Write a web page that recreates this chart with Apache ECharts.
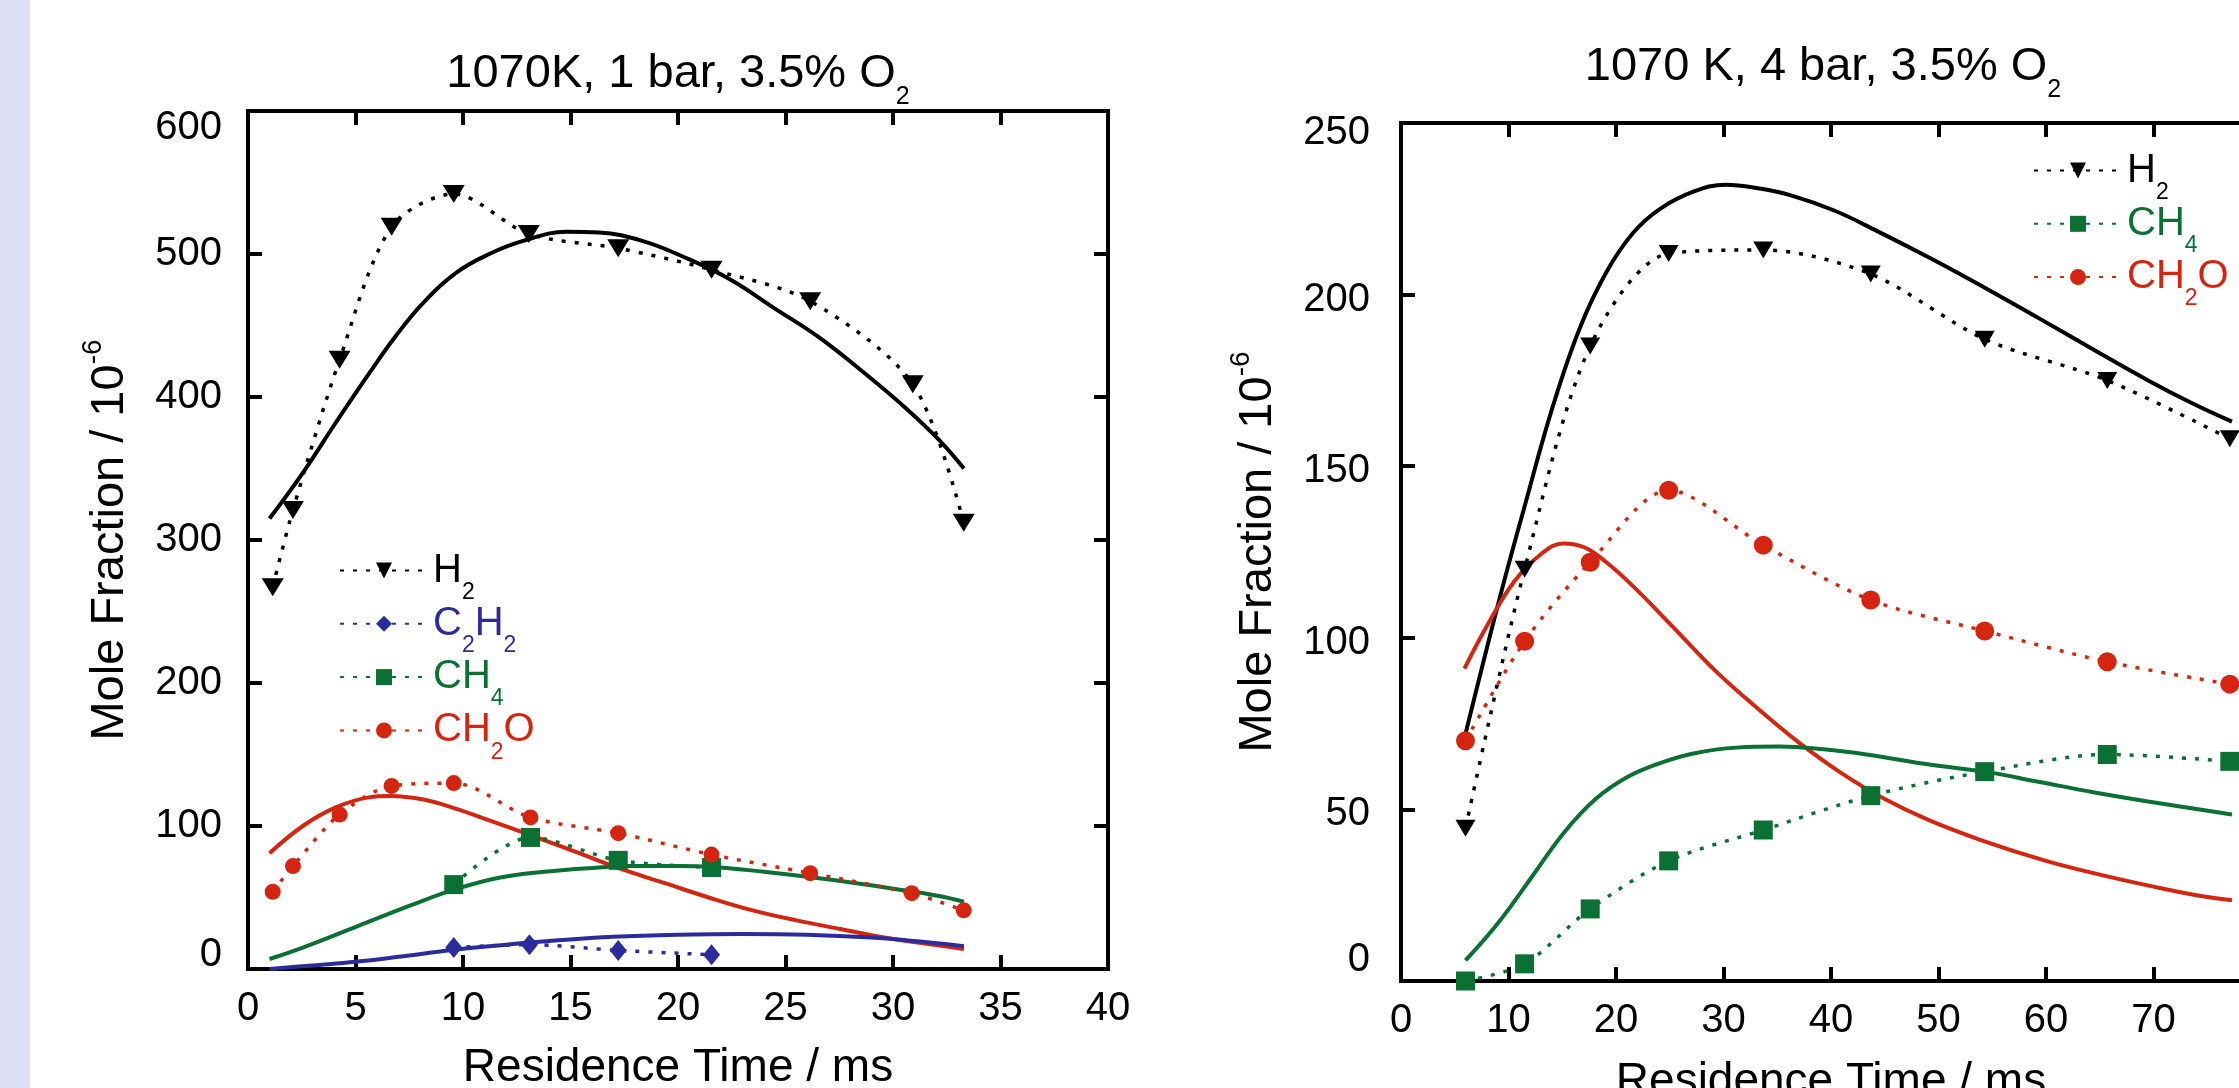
<!DOCTYPE html>
<html><head><meta charset="utf-8">
<script src="https://cdn.jsdelivr.net/npm/echarts@6/dist/echarts.min.js"></script>
<style>
html,body{margin:0;padding:0;}
body{background:linear-gradient(to right,#dfdff5 0,#dfdff5 30px,#ffffff 30px);}
#c{width:2239px;height:1088px;}
</style></head><body><div id="c"></div>
<script>
// ---------- Left panel: 1070K, 1 bar, 3.5% O2 ----------
const titleLeft = '1070K, 1 bar, 3.5% O';
const xTicks1 = {min: 0, max: 40, interval: 5};
const yTicks1 = {min: 0, max: 600, interval: 100};
// experiments
const tH2_1   = [1.15, 2.09, 4.26, 6.68, 9.57, 13.06, 17.22, 21.56, 26.15, 30.92, 33.29];
const H2_1    = [267, 321, 426, 519, 542, 514, 504, 489, 467, 409, 312];
const tCH2O_1 = [1.15, 2.09, 4.26, 6.68, 9.57, 13.14, 17.22, 21.56, 26.15, 30.87, 33.29];
const CH2O_1  = [54, 72, 108, 128, 130, 106, 95, 80, 67, 53, 41];
const tCH4_1  = [9.57, 13.14, 17.22, 21.56];
const CH4_1   = [59, 92, 76, 71];
const tC2H2_1 = [9.57, 13.09, 17.22, 21.56];
const C2H2_1  = [15, 17, 13, 10];
// model
const tmH2_1   = [1.0, 2.55, 4.08, 5.61, 6.89, 8.16, 9.69, 11.22, 12.76, 14.8, 16.33, 18.37, 20.41, 22.45, 24.49, 26.53, 28.57, 30.61, 32.14, 33.3];
const mH2_1    = [315, 347, 382, 416, 443, 466, 487, 500, 509, 515.5, 515, 509, 497, 482, 462, 442, 418, 392, 370, 350];
const tmCH2O_1 = [1.0, 2.55, 4.08, 5.61, 6.63, 8.16, 9.69, 11.22, 13.27, 15.31, 17.35, 19.39, 21.43, 23.47, 25.51, 27.55, 29.59, 31.63, 33.3];
const mCH2O_1  = [81, 100, 113, 120, 121, 118.5, 112, 104, 93, 81.5, 70, 60, 50, 41, 34, 28, 22, 17.5, 14];
const tmCH4_1  = [1.0, 2.55, 5.1, 7.65, 9.69, 11.73, 13.78, 15.82, 17.86, 19.9, 21.94, 23.98, 26.02, 28.06, 30.1, 32.14, 33.3];
const mCH4_1   = [7, 15, 30, 45, 56, 64, 68, 70.5, 72, 72, 71, 68, 64.5, 60.5, 56, 51, 47];
const tmC2H2_1 = [1.0, 3, 5, 7, 9.6, 12, 14, 17, 20, 23, 26, 29, 31, 33.3];
const mC2H2_1  = [0, 2.5, 5, 8.5, 13.5, 17, 19.5, 22.5, 24, 24.5, 24, 22, 19.5, 16];

// ---------- Right panel: 1070 K, 4 bar, 3.5% O2 ----------
const titleRight = '1070 K, 4 bar, 3.5% O';
const xTicks2 = {min: 0, max: 80, interval: 10};
const yTicks2 = {min: 0, max: 250, interval: 50};
const t_2    = [6.0, 11.5, 17.6, 24.9, 33.7, 43.7, 54.3, 65.7, 77.1];
const H2_2   = [44.5, 120, 185, 212, 213, 206, 187, 175, 158];
const CH2O_2 = [70, 99, 122, 143, 127, 111, 102, 93, 86.5];
const CH4_2  = [0, 5, 21, 35, 44, 54, 61, 66, 64];
const tmH2_2   = [6.0, 9.05, 11.56, 14.08, 16.6, 19.1, 21.6, 24.1, 27.2, 30.2, 33.2, 36.2, 40.3, 44.3, 49.3, 54.3, 59.4, 64.4, 69.5, 73.5, 77.3];
const mH2_2    = [72, 110, 139, 167, 190, 206.5, 218, 225, 230, 232, 231, 229, 224.5, 218.5, 210.5, 202, 193, 184, 175, 168.5, 163];
const tmCH2O_2 = [5.9, 8.0, 10.55, 13.07, 15.1, 17.1, 19.1, 21.6, 25.2, 29.2, 33.4, 37.2, 41, 45, 49, 54, 60, 65, 70, 74, 77.3];
const mCH2O_2  = [91, 103.5, 116.5, 124.5, 127.5, 126.3, 122, 115, 103.5, 90.5, 78.8, 69, 60.5, 53, 47, 41, 35, 31, 27.5, 25, 23.5];
const tmCH4_2  = [6.0, 9.05, 12.1, 15.1, 18.1, 21.1, 24.1, 27.2, 31.2, 35.2, 39.3, 43.3, 49.3, 54.3, 59.4, 64.4, 69.5, 77.3];
const mCH4_2   = [6, 17, 30, 43, 53, 59.5, 63.5, 66.3, 68, 68.3, 67.5, 66, 63, 61, 58, 55, 52.3, 48.5];

const legendLeft  = ['H2', 'C2H2', 'CH4', 'CH2O'];
const legendRight = ['H2', 'CH4', 'CH2O'];
const xName = 'Residence Time / ms';

// ---------- styling ----------
const FONT = "'Liberation Sans', Arial, Helvetica, sans-serif";
const C = {k: '#000000', b: '#2b2b9e', g: '#0a7033', r: '#d52510'};
const speciesColor = {H2: 'k', C2H2: 'b', CH4: 'g', CH2O: 'r'};

function pairs(xs, ys) { return xs.map((x, i) => [x, ys[i]]); }

function expSeries(name, xs, ys, ck, symbol, size, rot, ax) {
  return {
    type: 'line', name: name, xAxisIndex: ax * 2, yAxisIndex: ax * 2,
    data: pairs(xs, ys), symbol: symbol, symbolSize: size, symbolRotate: rot,
    smooth: 0.3, z: 5,
    lineStyle: {color: C[ck], width: 3.5, type: [4, 9], cap: 'butt'},
    itemStyle: {color: C[ck]}
  };
}
function modelSeries(name, xs, ys, ck, ax) {
  return {
    type: 'line', name: name + ' model', xAxisIndex: ax * 2, yAxisIndex: ax * 2,
    data: pairs(xs, ys), symbol: 'none', smooth: 0.4, z: 3,
    lineStyle: {color: C[ck], width: 4}
  };
}

function richSpecies() {
  const r = {};
  for (const k in C) {
    r['m' + k] = {fontSize: 40, lineHeight: 44, color: C[k], fontFamily: FONT};
    r['s' + k] = {fontSize: 23, lineHeight: 23, padding: [44, 0, 0, 0], color: C[k], fontFamily: FONT};
  }
  return r;
}
function legendFmt(name) {
  const k = speciesColor[name];
  return name.replace(/(\D+)|(\d+)/g, (m, a, d) => a ? '{m' + k + '|' + a + '}' : '{s' + k + '|' + d + '}');
}

const axisLineStyle = {color: '#000', width: 4, cap: 'square'};
function xAxes(gi, t, nameGap) {
  const base = {
    gridIndex: gi, type: 'value', min: t.min, max: t.max, interval: t.interval,
    axisLine: {show: true, onZero: false, lineStyle: axisLineStyle},
    axisTick: {show: true, inside: true, length: 14, lineStyle: {color: '#000', width: 4}},
    splitLine: {show: false}
  };
  return [
    Object.assign({}, base, {
      position: 'bottom',
      axisLabel: {fontSize: 40, color: '#000', margin: 20, fontFamily: FONT},
      name: xName, nameLocation: 'middle', nameGap: nameGap, nameMoveOverlap: false,
      nameTextStyle: {fontSize: 46, color: '#000', fontFamily: FONT}
    }),
    Object.assign({}, base, {position: 'top', axisLabel: {show: false}})
  ];
}
function yAxes(gi, t, margin, padMax, padMin, padMid, nameGap) {
  const base = {
    gridIndex: gi, type: 'value', min: t.min, max: t.max, interval: t.interval,
    axisLine: {show: true, onZero: false, lineStyle: axisLineStyle},
    axisTick: {show: true, inside: true, length: 14, lineStyle: {color: '#000', width: 4}},
    splitLine: {show: false}
  };
  return [
    Object.assign({}, base, {
      position: 'left',
      axisLabel: {
        fontSize: 40, color: '#000', margin: margin, fontFamily: FONT,
        formatter: v => v === t.max ? '{t|' + v + '}' : (v === t.min ? '{b|' + v + '}' : '{n|' + v + '}'),
        rich: {
          t: {fontSize: 40, color: '#000', fontFamily: FONT, padding: [padMax, 0, 0, 0]},
          b: {fontSize: 40, color: '#000', fontFamily: FONT, padding: [0, 0, padMin, 0]},
          n: {fontSize: 40, color: '#000', fontFamily: FONT, padding: [padMid, 0, 0, 0]}
        }
      },
      name: '{m|Mole Fraction / 10}{u|-6}', nameLocation: 'middle', nameGap: nameGap, nameMoveOverlap: false,
      nameTextStyle: {
        fontSize: 47, color: '#000', fontFamily: FONT,
        rich: {
          m: {fontSize: 47, color: '#000', fontFamily: FONT},
          u: {fontSize: 28, color: '#000', fontFamily: FONT, padding: [0, 0, 34, 0]}
        }
      }
    }),
    Object.assign({}, base, {position: 'right', axisLabel: {show: false}})
  ];
}

function legendCfg(names, left, top) {
  return {
    orient: 'vertical', left: left, top: top, padding: 0,
    itemWidth: 88, itemHeight: 20, itemGap: -13.7, selectedMode: false,
    data: names.map(n => ({name: n})),
    formatter: legendFmt,
    textStyle: {fontSize: 40, fontFamily: FONT, rich: richSpecies()}
  };
}

const titleRich = {s: {fontSize: 25, color: '#000', fontFamily: FONT, padding: [46, 0, 0, 0]}};

const option = {
  animation: false,
  backgroundColor: 'transparent',
  textStyle: {fontFamily: FONT},
  title: [
    {text: titleLeft + '{s|2}', left: 678, top: 39, padding: 0, textAlign: 'center', textVerticalAlign: 'top',
     textStyle: {fontSize: 47, fontWeight: 'normal', color: '#000', fontFamily: FONT, rich: titleRich}},
    {text: titleRight + '{s|2}', left: 1823, top: 32, padding: 0, textAlign: 'center', textVerticalAlign: 'top',
     textStyle: {fontSize: 47, fontWeight: 'normal', color: '#000', fontFamily: FONT, rich: titleRich}}
  ],
  grid: [
    {left: 248, top: 111, width: 860, height: 858, outerBoundsMode: 'none', containLabel: false},
    {left: 1401, top: 123, width: 860, height: 858, outerBoundsMode: 'none', containLabel: false}
  ],
  xAxis: [].concat(xAxes(0, xTicks1, 76), xAxes(1, xTicks2, 78)),
  yAxis: [].concat(yAxes(0, yTicks1, 26, 34, 28, 0, 107), yAxes(1, yTicks2, 31, 20, 42, 10, 112)),
  legend: [legendCfg(legendLeft, 339, 537), legendCfg(legendRight, 2033, 137)],
  series: [
    modelSeries('H2', tmH2_1, mH2_1, 'k', 0),
    modelSeries('CH2O', tmCH2O_1, mCH2O_1, 'r', 0),
    modelSeries('CH4', tmCH4_1, mCH4_1, 'g', 0),
    modelSeries('C2H2', tmC2H2_1, mC2H2_1, 'b', 0),
    expSeries('H2', tH2_1, H2_1, 'k', 'triangle', [22, 18], 180, 0),
    expSeries('C2H2', tC2H2_1, C2H2_1, 'b', 'diamond', [17, 21], 0, 0),
    expSeries('CH4', tCH4_1, CH4_1, 'g', 'rect', 19, 0, 0),
    expSeries('CH2O', tCH2O_1, CH2O_1, 'r', 'circle', 16, 0, 0),

    modelSeries('H2', tmH2_2, mH2_2, 'k', 1),
    modelSeries('CH2O', tmCH2O_2, mCH2O_2, 'r', 1),
    modelSeries('CH4', tmCH4_2, mCH4_2, 'g', 1),
    expSeries('H2', t_2, H2_2, 'k', 'triangle', [20, 17], 180, 1),
    expSeries('CH4', t_2, CH4_2, 'g', 'rect', 19, 0, 1),
    expSeries('CH2O', t_2, CH2O_2, 'r', 'circle', 19, 0, 1)
  ]
};

const chart = echarts.init(document.getElementById('c'), null, {renderer: 'canvas'});
chart.setOption(option);
</script>
</body></html>
